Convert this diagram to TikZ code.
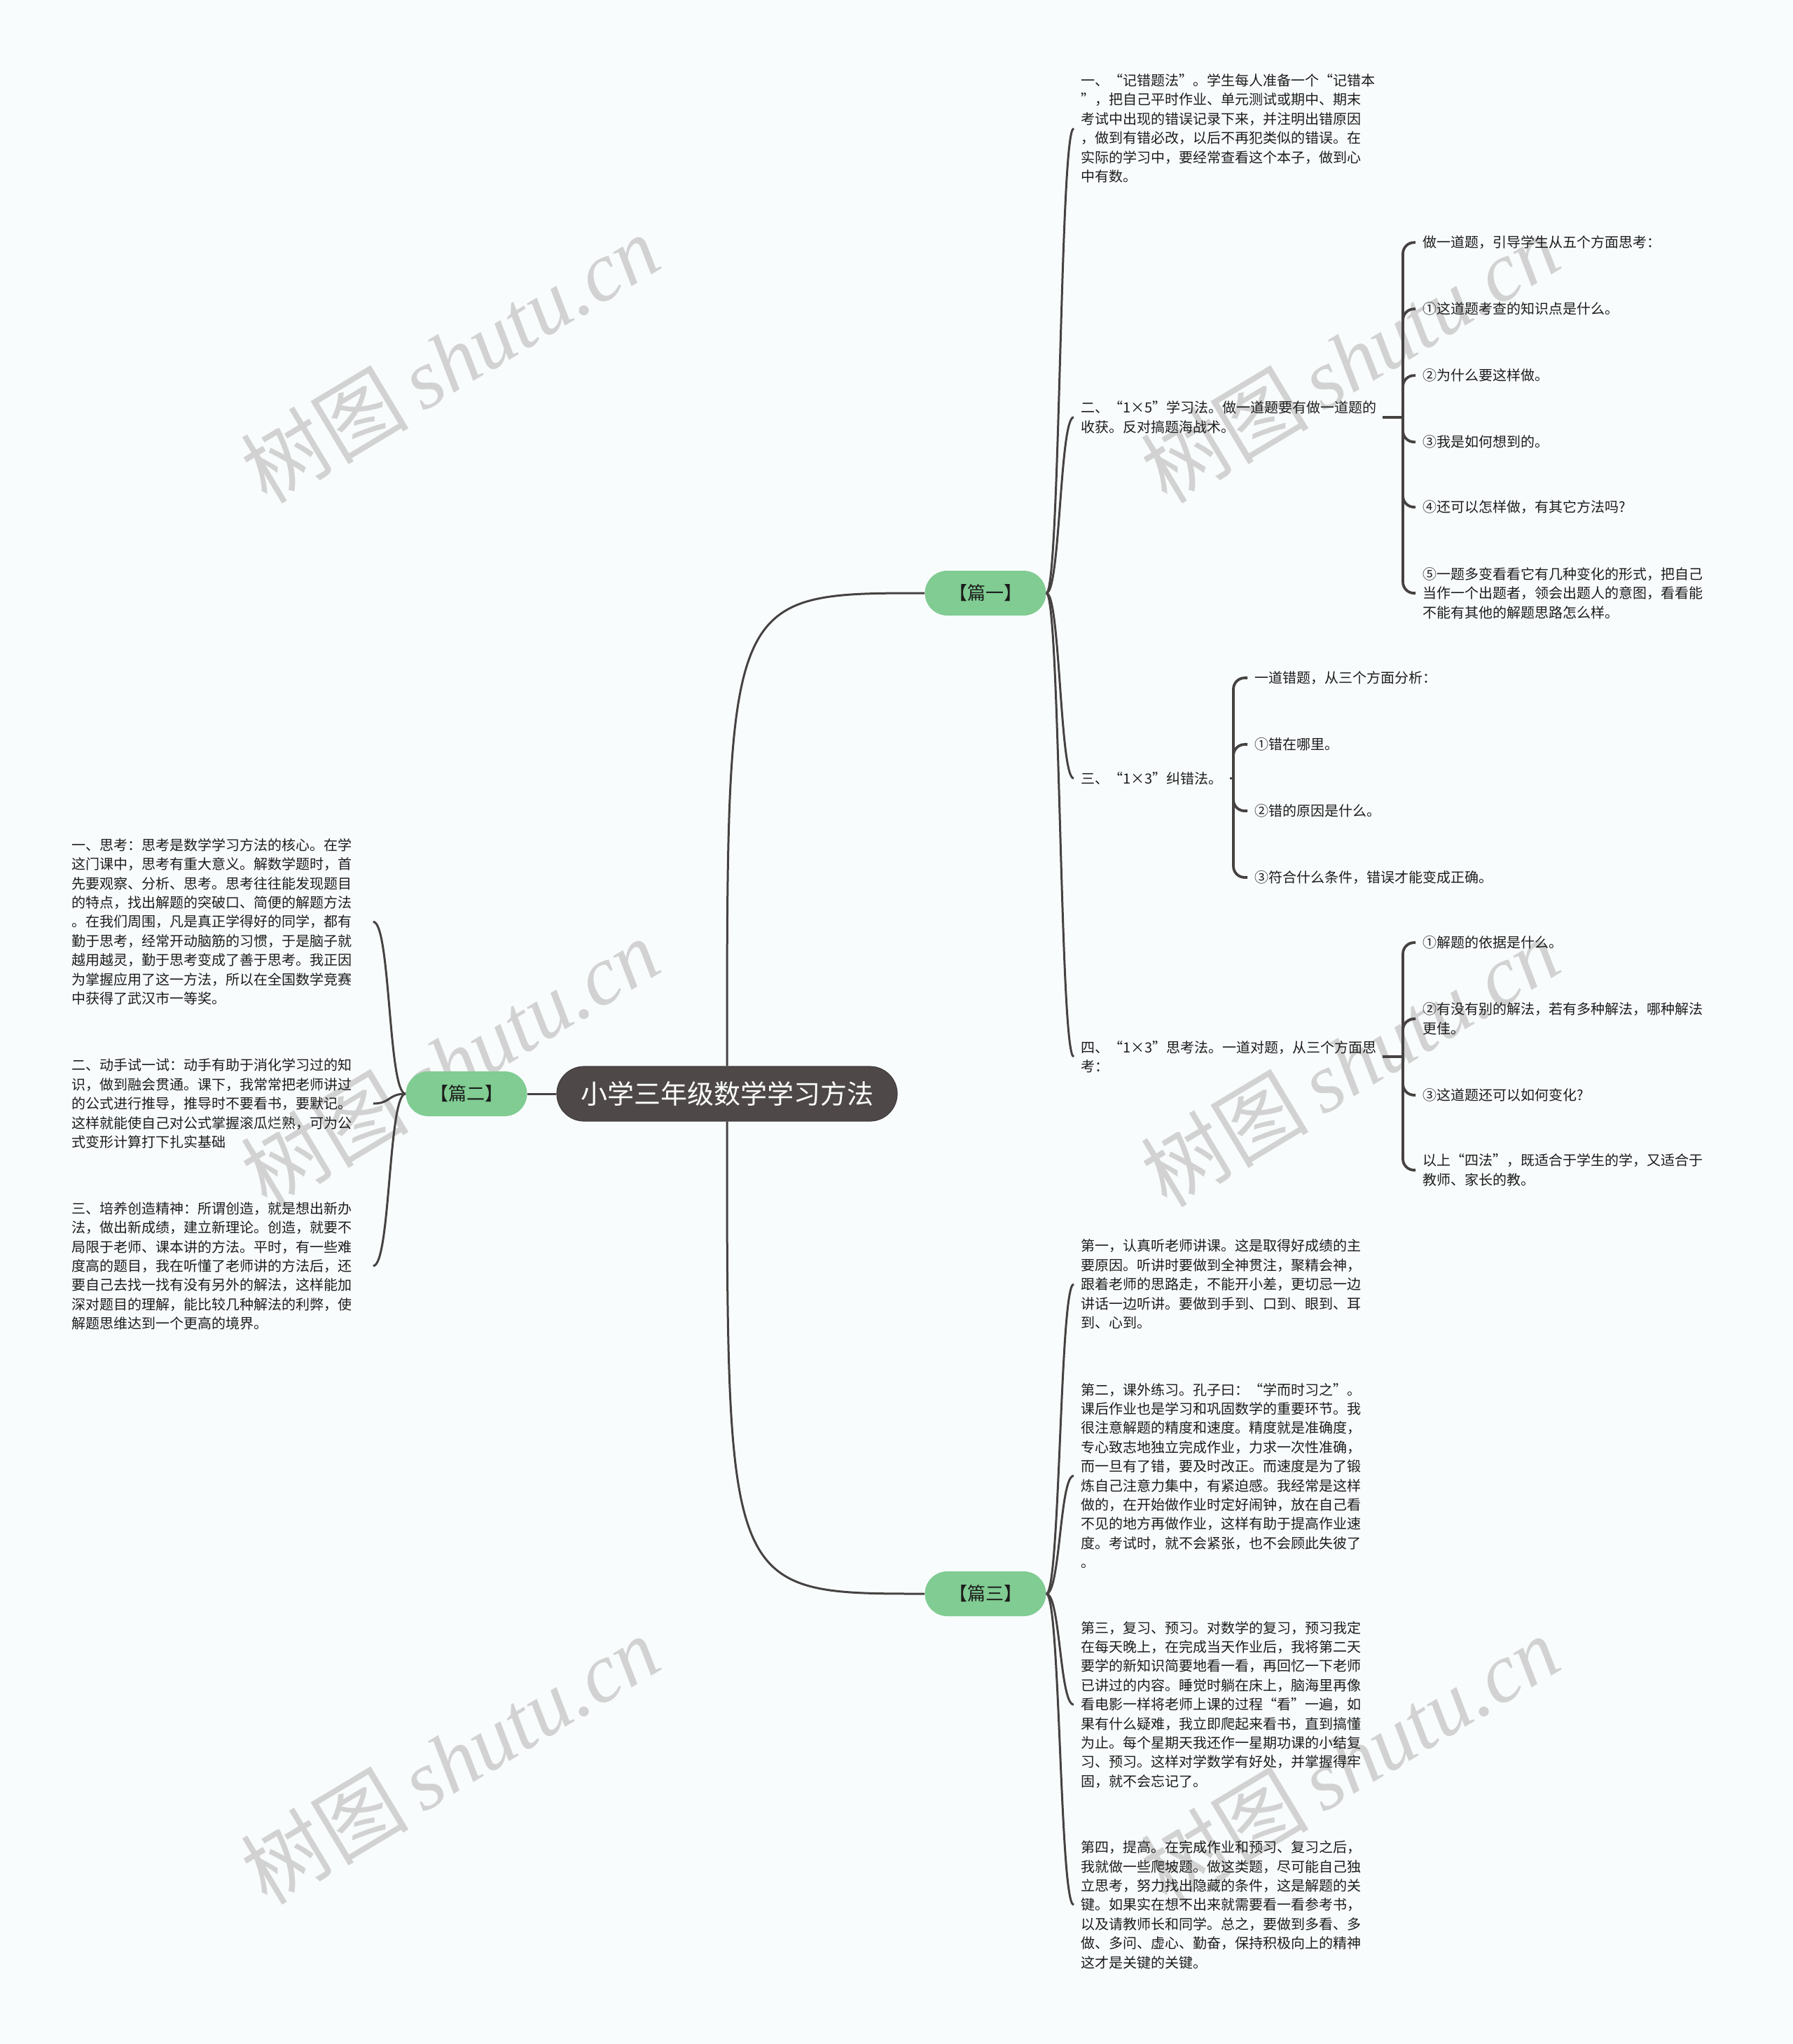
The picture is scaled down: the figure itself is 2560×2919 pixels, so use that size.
\documentclass[tikz,border=0pt]{standalone}
\usepackage{fontspec}
\setmainfont{Noto Sans CJK SC}
\newfontfamily\wmlatin{Liberation Serif}
\definecolor{bgc}{RGB}{249,252,253}
\definecolor{linec}{RGB}{70,66,66}
\definecolor{rootc}{RGB}{78,72,72}
\definecolor{greenc}{RGB}{128,204,146}
\definecolor{textc}{RGB}{28,28,28}
\begin{document}
\begin{tikzpicture}[x=0.5pt,y=-0.5pt,
  conn/.style={draw=linec,line width=1.5pt},
  brk/.style={draw=linec,line width=1.9pt,rounded corners=8pt},
  txt/.style={align=left,text=textc,font=\fontsize{10pt}{13.7pt}\selectfont,inner xsep=5pt,inner ysep=3pt,anchor=west},
  wtxt/.style={txt,text width=210pt},
  topic/.style={rounded corners=16pt,fill=greenc,minimum width=86.5pt,minimum height=32pt,inner sep=0pt,font=\fontsize{13pt}{15pt}\selectfont,text=textc},
  rootn/.style={fill=rootc,draw=rootc!85!black,line width=0.6pt,rounded corners=19.5pt,minimum width=243pt,minimum height=39pt,inner sep=0pt,text=white,font=\fontsize{19pt}{22pt}\selectfont},
  wm/.style={text=gray!35,rotate=31,font=\fontsize{60pt}{64pt}\selectfont,inner sep=0pt}]
\fill[bgc] (0,0) rectangle (2560,2919);
\useasboundingbox (0,0) rectangle (2560,2919);

% watermarks
\foreach \wx/\wy [count=\i] in {642/512,1927/512,642/1517,1927/1517,642/2513,1927/2513}
  \node[wm] (wm\i) at (\wx,\wy) {树图\,{\wmlatin\itshape shutu.cn}};

% main nodes
\node[rootn] (root) at (1038,1562) {小学三年级数学学习方法};
\node[topic] (p1) at (1407,847) {【篇一】};
\node[topic] (p2) at (666,1562) {【篇二】};
\node[topic] (p3) at (1407,2276) {【篇三】};

% 篇一 children
\node[wtxt] (A1) at (1533,183.4) {一、“记错题法”。学生每人准备一个“记错本\\”，把自己平时作业、单元测试或期中、期末\\考试中出现的错误记录下来，并注明出错原因\\，做到有错必改，以后不再犯类似的错误。在\\实际的学习中，要经常查看这个本子，做到心\\中有数。};
\node[wtxt] (A2) at (1533,595.8) {二、“1×5”学习法。做一道题要有做一道题的\\收获。反对搞题海战术。};
\node[txt] (A3) at (1533,1111.5) {三、“1×3”纠错法。};
\node[wtxt] (A4) at (1533,1509) {四、“1×3”思考法。一道对题，从三个方面思\\考：};

\node[txt] (C1) at (2021,346.3) {做一道题，引导学生从五个方面思考：};
\node[txt] (C2) at (2021,441.2) {①这道题考查的知识点是什么。};
\node[txt] (C3) at (2021,536.2) {②为什么要这样做。};
\node[txt] (C4) at (2021,631.2) {③我是如何想到的。};
\node[txt] (C5) at (2021,724.2) {④还可以怎样做，有其它方法吗?};
\node[txt] (C6) at (2021,847.1) {⑤一题多变看看它有几种变化的形式，把自己\\当作一个出题者，领会出题人的意图，看看能\\不能有其他的解题思路怎么样。};

\node[txt] (D1) at (1781,968.1) {一道错题，从三个方面分析：};
\node[txt] (D2) at (1781,1063.1) {①错在哪里。};
\node[txt] (D3) at (1781,1158.0) {②错的原因是什么。};
\node[txt] (D4) at (1781,1253.0) {③符合什么条件，错误才能变成正确。};

\node[txt] (E1) at (2021,1346.1) {①解题的依据是什么。};
\node[txt] (E2) at (2021,1455.0) {②有没有别的解法，若有多种解法，哪种解法\\更佳。};
\node[txt] (E3) at (2021,1563.9) {③这道题还可以如何变化?};
\node[txt] (E4) at (2021,1671.0) {以上“四法”，既适合于学生的学，又适合于\\教师、家长的教。};

% 篇三 children
\node[wtxt] (B1) at (1533,1833.9) {第一，认真听老师讲课。这是取得好成绩的主\\要原因。听讲时要做到全神贯注，聚精会神，\\跟着老师的思路走，不能开小差，更切忌一边\\讲话一边听讲。要做到手到、口到、眼到、耳\\到、心到。};
\node[wtxt] (B2) at (1533,2107.5) {第二，课外练习。孔子曰：“学而时习之”。\\课后作业也是学习和巩固数学的重要环节。我\\很注意解题的精度和速度。精度就是准确度，\\专心致志地独立完成作业，力求一次性准确，\\而一旦有了错，要及时改正。而速度是为了锻\\炼自己注意力集中，有紧迫感。我经常是这样\\做的，在开始做作业时定好闹钟，放在自己看\\不见的地方再做作业，这样有助于提高作业速\\度。考试时，就不会紧张，也不会顾此失彼了\\。};
\node[wtxt] (B3) at (1533,2434.3) {第三，复习、预习。对数学的复习，预习我定\\在每天晚上，在完成当天作业后，我将第二天\\要学的新知识简要地看一看，再回忆一下老师\\已讲过的内容。睡觉时躺在床上，脑海里再像\\看电影一样将老师上课的过程“看”一遍，如\\果有什么疑难，我立即爬起来看书，直到搞懂\\为止。每个星期天我还作一星期功课的小结复\\习、预习。这样对学数学有好处，并掌握得牢\\固，就不会忘记了。};
\node[wtxt] (B4) at (1533,2720.2) {第四，提高。在完成作业和预习、复习之后，\\我就做一些爬坡题。做这类题，尽可能自己独\\立思考，努力找出隐藏的条件，这是解题的关\\键。如果实在想不出来就需要看一看参考书，\\以及请教师长和同学。总之，要做到多看、多\\做、多问、虚心、勤奋，保持积极向上的精神\\这才是关键的关键。};

% 篇二 children
\node[wtxt] (L1) at (92,1316.3) {一、思考：思考是数学学习方法的核心。在学\\这门课中，思考有重大意义。解数学题时，首\\先要观察、分析、思考。思考往往能发现题目\\的特点，找出解题的突破口、简便的解题方法\\。在我们周围，凡是真正学得好的同学，都有\\勤于思考，经常开动脑筋的习惯，于是脑子就\\越用越灵，勤于思考变成了善于思考。我正因\\为掌握应用了这一方法，所以在全国数学竞赛\\中获得了武汉市一等奖。};
\node[wtxt] (L2) at (92,1576.0) {二、动手试一试：动手有助于消化学习过的知\\识，做到融会贯通。课下，我常常把老师讲过\\的公式进行推导，推导时不要看书，要默记。\\这样就能使自己对公式掌握滚瓜烂熟，可为公\\式变形计算打下扎实基础};
\node[wtxt] (L3) at (92,1807.8) {三、培养创造精神：所谓创造，就是想出新办\\法，做出新成绩，建立新理论。创造，就要不\\局限于老师、课本讲的方法。平时，有一些难\\度高的题目，我在听懂了老师讲的方法后，还\\要自己去找一找有没有另外的解法，这样能加\\深对题目的理解，能比较几种解法的利弊，使\\解题思维达到一个更高的境界。};

% root connectors
\draw[conn] (root.north) .. controls (1038,847) and (1038,847) .. (p1.west);
\draw[conn] (root.south) .. controls (1038,2276) and (1038,2276) .. (p3.west);
\draw[conn] (root.west) -- (p2.east);

% level 1 connectors
\foreach \n in {A1,A2,A3,A4}
  \draw[conn] (p1.east) .. controls +(20,0) and +(-20,0) .. (\n.west);
\foreach \n in {B1,B2,B3,B4}
  \draw[conn] (p3.east) .. controls +(20,0) and +(-20,0) .. (\n.west);
\foreach \n in {L1,L2,L3}
  \draw[conn] (p2.west) .. controls +(-25,0) and +(25,0) .. (\n.east);

% brackets
\coordinate (t2) at (2003,595.8);
\coordinate (t3) at (1761,1111.5);
\coordinate (t4) at (2003,1509);
\draw[brk] (A2.east) -- (t2);
\draw[brk] (A3.east) -- (t3);
\draw[brk] (A4.east) -- (t4);
\foreach \n in {C1,C2,C3,C4,C5,C6}
  \draw[brk] (t2) |- (\n.west);
\foreach \n in {D1,D2,D3,D4}
  \draw[brk] (t3) |- (\n.west);
\foreach \n in {E1,E2,E3,E4}
  \draw[brk] (t4) |- (\n.west);
\end{tikzpicture}
\end{document}
